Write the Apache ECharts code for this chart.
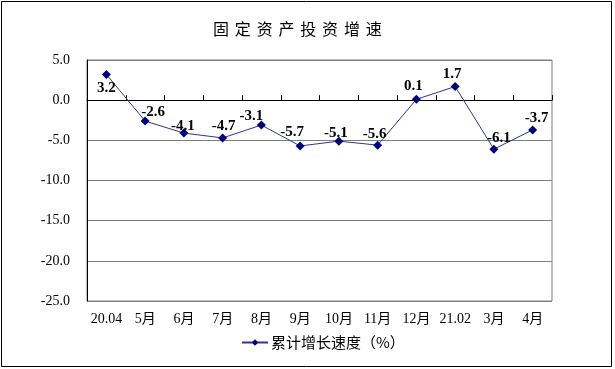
<!DOCTYPE html>
<html><head><meta charset="utf-8">
<script src="https://cdn.jsdelivr.net/npm/echarts@6/dist/echarts.min.js"></script>
<style>html,body{margin:0;padding:0;background:#fff}#c{width:615px;height:369px}</style>
</head><body><div id="c"></div>
<script>
const categories = ['20.04','5月','6月','7月','8月','9月','10月','11月','12月','21.02','3月','4月'];
const values = [3.2, -2.6, -4.1, -4.7, -3.1, -5.7, -5.1, -5.6, 0.1, 1.7, -6.1, -3.7];
const seriesName = '累计增长速度（%）';
const titleChars = ['固','定','资','产','投','资','增','速'];

// label styling (not data)
const labelPositions = ['bottom','top','top','top','top','top','top','top','top','top','top','top'];
const labelOffsets = [[0,2],[8,3],[-1,5],[1,0],[-10,3],[-8,-2],[-3,4],[-3,1],[-3,-1],[-3,0],[5,1],[4,0]];

const chart = echarts.init(document.getElementById('c'), null, {renderer:'canvas'});
const serif = '"Liberation Serif","Times New Roman","Noto Sans CJK SC",serif';
chart.setOption({
  animation:false,
  backgroundColor:'#fff',
  graphic:[{type:'rect',shape:{x:1.5,y:1.5,width:610,height:365},style:{fill:'none',stroke:'#000',lineWidth:1}}],
  title:{text:titleChars.map(c=>'{a|'+c+'}').join('{s| }'),left:208,top:11,
    textStyle:{fontWeight:'normal',rich:{a:{fontFamily:'"Noto Sans CJK SC"',fontSize:16,fontWeight:'normal',color:'#000'},s:{fontSize:26,fontWeight:'normal',fontFamily:'"Noto Sans CJK SC"'}}}},
  grid:{left:87,top:60,right:63,bottom:68,show:true,borderColor:'#808080',borderWidth:1},
  legend:{top:330,left:236,itemWidth:26,itemHeight:8,itemGap:4,
    textStyle:{fontFamily:'"Noto Sans CJK SC"',fontSize:15,color:'#000',padding:[0,0,0,-2]},data:[seriesName]},
  xAxis:{type:'category',data:categories,boundaryGap:true,
    axisLine:{lineStyle:{color:'#000',width:1}},
    axisTick:{show:true,inside:true,length:5,lineStyle:{color:'#000'}},
    axisLabel:{fontFamily:serif,fontSize:14,color:'#000',margin:11,interval:0}},
  yAxis:{type:'value',min:-25,max:5,interval:5,
    axisLine:{show:true,lineStyle:{color:'#000',width:1}},
    axisTick:{show:false},
    splitLine:{lineStyle:{color:'#808080',width:1}},
    axisLabel:{fontFamily:serif,fontSize:14,color:'#000',margin:17,formatter:v=>v.toFixed(1)}},
  series:[{name:seriesName,type:'line',
    data:values.map((v,i)=>({value:v,label:{position:labelPositions[i],offset:labelOffsets[i]}})),
    symbol:'diamond',symbolSize:9,
    lineStyle:{color:'#333399',width:1},
    itemStyle:{color:'#000080'},
    label:{show:true,fontFamily:serif,fontSize:15,fontWeight:'bold',color:'#000',distance:0,formatter:p=>p.value.toFixed(1)}
  }]
});
</script></body></html>
